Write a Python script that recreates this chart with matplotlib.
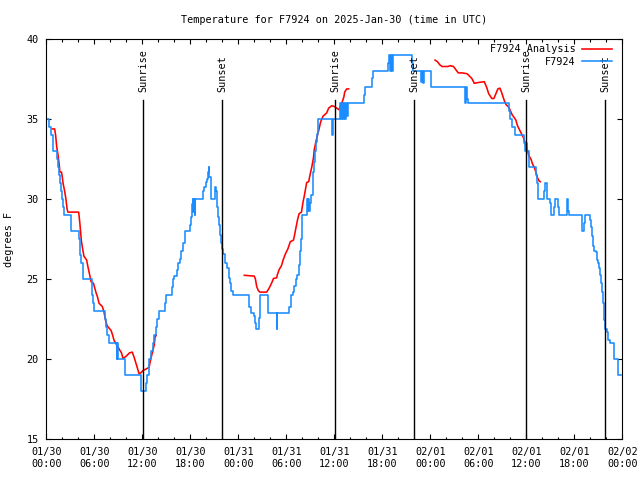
import numpy as np
import pandas as pd
import matplotlib
matplotlib.use("Agg")
import matplotlib.pyplot as plt
import matplotlib.dates as mdates
from matplotlib.ticker import MultipleLocator

plt.rcParams["font.family"] = "DejaVu Sans Mono"
plt.rcParams["font.size"] = 7.3

start = pd.Timestamp("2025-01-30 00:00")

# station observations: hours after 01/30 00:00 UTC, deg F
obs_hours = [0.0, 0.35, 0.65, 0.8, 1.3, 1.45, 1.6, 1.75, 1.9, 2.0, 2.1, 2.2, 3.1, 4.15, 4.25,
             4.4, 4.55, 4.65, 5.75, 5.85, 6.0, 7.4, 7.5, 7.65, 7.8, 8.8, 8.85, 8.95, 9.9, 11.9,
             12.5, 12.6, 12.8, 12.9, 13.1, 13.3, 13.5, 13.7, 13.85, 14.05, 14.9, 15.0, 15.7, 15.85,
             16.0, 16.3, 16.5, 16.7, 16.8, 17.1, 17.35, 17.95, 18.1, 18.2, 18.3, 18.35, 18.45,
             18.55, 18.65, 19.55, 19.75, 19.95, 20.1, 20.2, 20.35, 20.4, 20.6, 21.05, 21.25, 21.4,
             21.5, 21.6, 21.75, 21.9, 22.0, 22.15, 22.3, 22.6, 22.8, 23.0, 23.1, 23.3, 25.35,
             25.55, 25.95, 26.1, 26.2, 26.6, 26.75, 27.7, 27.75, 28.85, 28.9, 30.4, 30.55, 30.8,
             31.0, 31.2, 31.4, 31.55, 31.7, 31.8, 32.0, 32.65, 32.7, 32.75, 32.85, 33.0, 33.15,
             33.3, 33.4, 33.5, 33.6, 33.7, 33.8, 34.0, 35.75, 35.85, 36.75, 36.85, 37.0, 37.1,
             37.25, 37.35, 37.5, 37.6, 37.7, 39.7, 39.85, 40.75, 40.9, 42.7, 42.85, 42.95, 43.1,
             43.2, 43.4, 45.75, 45.85, 46.9, 47.0, 47.1, 47.2, 48.15, 52.35, 52.45, 52.55, 52.75,
             57.8, 57.95, 58.2, 58.65, 59.7, 59.8, 60.0, 60.1, 60.3, 61.25, 61.38, 61.5, 62.25,
             62.34, 62.55, 62.63, 62.96, 63.09, 63.5, 63.59, 63.92, 64.09, 65.05, 65.13, 65.25,
             65.38, 66.92, 67.0, 67.25, 67.34, 67.92, 68.09, 68.25, 68.38, 68.5, 68.67, 68.8,
             68.92, 69.09, 69.21, 69.34, 69.5, 69.63, 69.75, 69.84, 70.09, 70.25, 70.42, 70.95,
             71.5, 71.9]
obs_temp = [35.0, 34.5, 34.0, 33.0, 32.5, 32.0, 31.5, 31.0, 30.5, 30.0, 29.5, 29.0, 28.0, 27.5, 26.5,
            26.0, 25.5, 25.0, 24.0, 23.5, 23.0, 22.5, 22.0, 21.5, 21.0, 20.0, 21.0, 20.0, 19.0, 18.0,
            18.5, 19.0, 19.5, 20.0, 20.5, 21.0, 21.5, 22.0, 22.5, 23.0, 23.5, 24.0, 24.5, 25.0,
            25.2, 25.6, 26.0, 26.3, 26.8, 27.3, 28.0, 28.4, 28.9, 29.7, 30.0, 29.2, 30.0,
            29.0, 30.0, 30.5, 30.8, 31.1, 31.3, 31.7, 32.0, 31.4, 30.0, 30.8, 30.5, 29.5,
            28.9, 28.4, 27.8, 27.25, 26.9, 26.6, 26.0, 25.7, 25.1, 24.75, 24.3, 24.0, 23.3,
            22.9, 22.7, 22.25, 21.9, 22.6, 24.0, 23.5, 22.9, 21.9, 22.9, 23.3, 24.0, 24.2,
            24.6, 25.0, 25.3, 25.9, 26.8, 27.5, 29.0, 30.0, 29.3, 30.0, 29.3, 29.75, 30.3,
            31.0, 31.7, 32.35, 33.0, 33.6, 34.1, 35.0, 34.0, 35.0, 36.0, 35.0, 36.0, 35.0,
            36.0, 35.0, 36.0, 35.2, 36.0, 36.5, 37.0, 37.6, 38.0, 38.5, 39.0, 38.0, 39.0,
            38.0, 39.0, 38.5, 38.0, 37.35, 38.0, 37.3, 38.0, 37.0, 36.0, 37.0, 36.3, 36.0,
            35.5, 35.0, 34.5, 34.0, 33.5, 33.0, 33.5, 33.0, 32.0, 31.5, 31.0, 30.0, 30.5,
            31.0, 30.3, 30.0, 29.75, 29.0, 29.5, 30.0, 29.5, 29.0, 29.5, 30.0, 29.3,
            29.0, 28.7, 28.0, 28.5, 29.0, 28.7, 28.3, 27.7, 27.1, 26.8, 26.7, 26.2,
            26.0, 25.7, 25.3, 24.75, 24.2, 23.5, 22.45, 21.9, 21.7, 21.2, 21.0, 20.0,
            19.0, 19.0]

# analysis, three separate runs
ana1_hours = [0.75, 1.05, 1.17, 1.3, 1.46, 1.6, 1.7, 1.9, 2.0, 2.1, 2.3, 2.46, 2.6, 2.7, 4.05,
              4.2, 4.3, 4.4, 4.55, 4.7, 5.05, 5.2, 5.46, 5.6, 5.9, 6.2, 6.4, 6.6, 7.0, 7.2, 7.4,
              7.6, 8.1, 8.3, 8.46, 8.8, 9.4, 9.6, 10.0, 10.4, 10.75, 11.0, 11.3, 11.6, 11.8,
              12.1, 12.5, 12.85, 13.05, 13.2, 13.5, 13.6, 13.75]
ana1_temp = [34.4, 34.4, 34.0, 33.3, 32.8, 32.25, 31.7, 31.7, 31.4, 31.0, 30.5, 30.0, 29.4, 29.2, 29.2,
             28.5, 27.9, 27.35, 26.9, 26.45, 26.2, 25.8, 25.2, 24.85, 24.75, 24.2, 23.9, 23.5, 23.3, 23.0, 22.45,
             22.1, 21.8, 21.5, 21.2, 20.9, 20.4, 20.05, 20.2, 20.4, 20.45, 20.1, 19.6, 19.1, 19.15,
             19.3, 19.4, 19.5, 20.0, 20.3, 20.9, 21.4, 21.5]
ana2_hours = [24.75, 26.0, 26.15, 26.3, 26.5, 26.7, 27.55, 27.8, 27.96, 28.2, 28.4, 28.8, 28.9,
              29.1, 29.4, 29.6, 29.9, 30.2, 30.5, 30.9, 31.05, 31.2, 31.4, 31.6, 31.9, 32.1,
              32.25, 32.55, 32.8, 32.96, 33.2, 33.4, 33.5, 33.7, 33.9, 34.1, 34.3, 34.6, 35.05,
              35.3, 35.7, 36.0, 36.3, 36.6, 36.8, 37.0, 37.2, 37.3, 37.55, 37.8]
ana2_temp = [25.25, 25.2, 25.0, 24.55, 24.3, 24.2, 24.2, 24.4, 24.55, 24.8, 25.05, 25.1, 25.3,
             25.6, 25.85, 26.2, 26.6, 26.9, 27.35, 27.45, 27.8, 28.2, 28.7, 29.1, 29.2, 29.85,
             30.2, 31.05, 31.1, 31.5, 32.05, 32.6, 33.1, 33.6, 34.0, 34.4, 34.85, 35.2, 35.4,
             35.7, 35.85, 35.8, 35.7, 35.6, 35.85, 36.1, 36.4, 36.7, 36.9, 36.9]
ana3_hours = [48.6, 48.9, 49.2, 49.5, 50.2, 50.5, 50.9, 51.2, 51.5, 52.0, 52.6, 53.2, 53.5, 54.0,
              54.75, 55.05, 55.3, 55.7, 55.95, 56.2, 56.45, 56.7, 56.9, 57.1, 57.3, 57.5, 57.75,
              57.96, 58.25, 58.5, 58.7, 58.9, 59.1, 59.4, 59.7, 59.9, 60.2, 60.3, 60.6, 60.75,
              61.0, 61.2, 61.4, 61.6, 61.75]
ana3_temp = [38.7, 38.6, 38.4, 38.3, 38.3, 38.35, 38.3, 38.1, 37.9, 37.9, 37.85, 37.55, 37.25, 37.3,
             37.35, 37.0, 36.6, 36.3, 36.3, 36.6, 36.9, 36.95, 36.7, 36.4, 36.1, 35.9, 35.8,
             35.6, 35.27, 35.1, 34.95, 34.6, 34.4, 34.1, 33.8, 33.4, 33.0, 32.75, 32.5, 32.25,
             32.0, 31.7, 31.35, 31.15, 31.1]

sunrise = ["2025-01-30 12:05", "2025-01-31 12:05", "2025-02-01 11:59"]
sunset = ["2025-01-30 22:00", "2025-01-31 22:00", "2025-02-01 21:52"]


def to_time(hours):
    return start + pd.to_timedelta(np.array(hours), unit="h")


fig = plt.figure(figsize=(6.4, 4.8), dpi=100)
ax = fig.add_axes([0.0723, 0.0848, 0.9, 0.8333])

red = "#ff0000"
blue = "#1a8cff"

first = True
for hrs, tmp in [(ana1_hours, ana1_temp), (ana2_hours, ana2_temp), (ana3_hours, ana3_temp)]:
    ax.plot(to_time(hrs), tmp, color=red, lw=1.15,
            label="F7924 Analysis" if first else None)
    first = False
ax.plot(to_time(obs_hours), obs_temp, color=blue, lw=1.15, drawstyle="steps-post", label="F7924")

for name, times in [("Sunrise", sunrise), ("Sunset", sunset)]:
    for t in times:
        t = pd.Timestamp(t)
        ax.axvline(t, ymin=0, ymax=0.848, color="black", lw=1.0)
        ax.text(t, 0.868, name, rotation=90, ha="center", va="bottom",
                transform=ax.get_xaxis_transform())

ax.set_xlim(start, start + pd.Timedelta(days=3))
ax.set_ylim(15, 40)
ax.xaxis.set_major_locator(mdates.HourLocator(byhour=[0, 6, 12, 18]))
ax.xaxis.set_minor_locator(mdates.HourLocator(byhour=range(0, 24, 2)))
ax.xaxis.set_major_formatter(mdates.DateFormatter("%m/%d\n%H:%M"))
ax.yaxis.set_major_locator(MultipleLocator(5))
ax.tick_params(which="both", direction="in", top=True, right=True, width=0.8)
ax.tick_params(which="major", length=3.4, pad=5.5)
ax.tick_params(which="minor", length=1.8)
for s in ax.spines.values():
    s.set_linewidth(0.8)

ax.set_ylabel("degrees F", labelpad=9)
ax.set_title("Temperature for F7924 on 2025-Jan-30 (time in UTC)", fontsize=7.3, pad=12)

ax.legend(loc="upper right", bbox_to_anchor=(0.991, 1.0), frameon=False, markerfirst=False,
          handlelength=3.0, handletextpad=0.6, labelspacing=0.25, borderaxespad=0.2,
          borderpad=0.3)

fig.savefig("out.png", dpi=100)
